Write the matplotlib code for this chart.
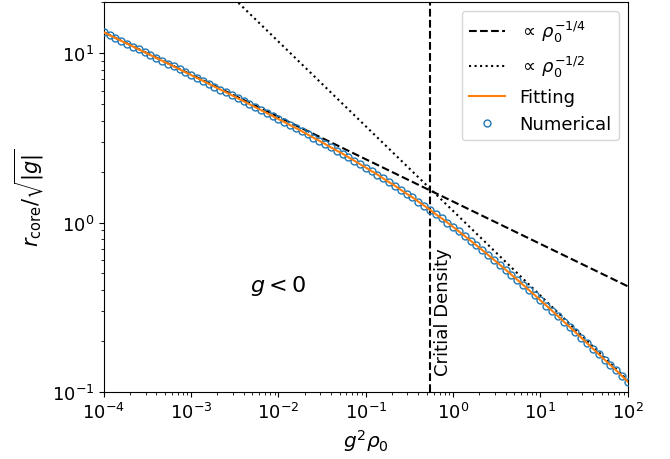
"""
Core radius vs density: numerical solution, fit and power-law asymptotes
"""

import numpy as np
import matplotlib

matplotlib.use("Agg")
import matplotlib.pyplot as plt
from matplotlib import rcParams

rcParams["font.size"] = 13

# g^2 rho_0 grid (15 points per decade) and r_core / sqrt|g|
rho = np.logspace(-4, 2, 91)
r_num = [
    13.28, 12.78, 12.29, 11.83, 11.38, 10.95, 10.53, 10.13, 9.75, 9.38,
    9.02, 8.68, 8.35, 8.03, 7.72, 7.43, 7.14, 6.87, 6.60, 6.35,
    6.10, 5.87, 5.64, 5.42, 5.21, 5.00, 4.80, 4.61, 4.43, 4.25,
    4.08, 3.92, 3.76, 3.61, 3.46, 3.31, 3.17, 3.04, 2.91, 2.78,
    2.66, 2.55, 2.43, 2.32, 2.21, 2.11, 2.01, 1.92, 1.82, 1.73,
    1.65, 1.56, 1.48, 1.41, 1.33, 1.26, 1.19, 1.12, 1.06, 1.00,
    0.941, 0.885, 0.832, 0.781, 0.733, 0.687, 0.644, 0.603, 0.564, 0.527,
    0.492, 0.460, 0.429, 0.400, 0.373, 0.347, 0.323, 0.301, 0.280, 0.260,
    0.242, 0.225, 0.209, 0.194, 0.180, 0.167, 0.155, 0.144, 0.134, 0.124,
    0.115,
]
r_fit = r_num

# asymptotes (end points)
asym_x = [1e-4, 1e2]
quarter_y = [13.3, 0.42]
half_y = [117.0, 0.117]

rho_crit = 0.54

fig, ax = plt.subplots(figsize=(6.7, 4.6), dpi=100)
fig.subplots_adjust(left=0.155, right=0.937, bottom=0.146, top=0.993)

ax.plot(asym_x, quarter_y, "k--", lw=1.5, label=r"$\propto\,\rho_0^{-1/4}$")
ax.plot(asym_x, half_y, "k:", lw=1.5, label=r"$\propto\,\rho_0^{-1/2}$")
ax.plot(rho, r_num, "o", ms=5, mfc="none", mec="C0", mew=1.0, label="Numerical", zorder=3)
ax.plot(rho, r_fit, "-", color="C1", lw=1.5, label="Fitting", zorder=4)
ax.axvline(rho_crit, color="k", ls="--", lw=1.5)

ax.set_xscale("log")
ax.set_yscale("log")
ax.set_xlim(1e-4, 1e2)
ax.set_ylim(0.1, 20)

ax.set_xlabel(r"$g^2\rho_0$", fontsize=14.5)
ax.set_ylabel(r"$r_\mathrm{core}/\sqrt{|g|}$", fontsize=15)

ax.text(1e-2, 0.43, r"$g<0$", fontsize=16, ha="center", va="center")
ax.text(0.6, 0.125, "Critial Density", rotation=90, ha="left", va="bottom")

handles, labels = ax.get_legend_handles_labels()
order = [0, 1, 3, 2]
ax.legend([handles[i] for i in order], [labels[i] for i in order], loc="upper right")

plt.savefig("out.png")
